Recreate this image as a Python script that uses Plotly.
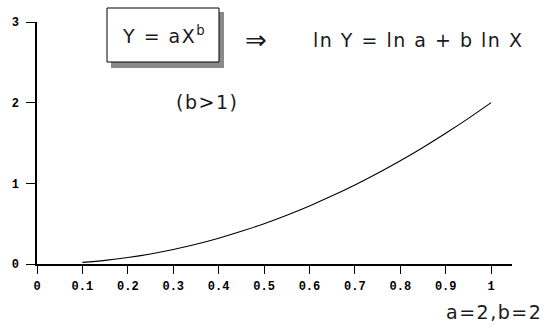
import plotly.graph_objects as go

# Power curve Y = aX^b with a=2, b=2
x_vals = [0.10, 0.15, 0.20, 0.25, 0.30, 0.35, 0.40, 0.45, 0.50, 0.55,
          0.60, 0.65, 0.70, 0.75, 0.80, 0.85, 0.90, 0.95, 1.00]
y_vals = [0.02, 0.045, 0.08, 0.125, 0.18, 0.245, 0.32, 0.405, 0.50, 0.605,
          0.72, 0.845, 0.98, 1.125, 1.28, 1.445, 1.62, 1.805, 2.00]

x_ticks = [0, 0.1, 0.2, 0.3, 0.4, 0.5, 0.6, 0.7, 0.8, 0.9, 1.0]
x_tick_text = ["0", "0.1", "0.2", "0.3", "0.4", "0.5", "0.6", "0.7", "0.8", "0.9", "1"]
y_ticks = [0, 1, 2, 3]
y_tick_text = ["0", "1", "2", "3"]

W, H = 552, 332
L, R, T, B = 37, 40, 22, 68
PW, PH = W - L - R, H - T - B


def px(xp):
    return (xp - L) / PW


def py(yp):
    return (H - B - yp) / PH


fig = go.Figure()
fig.add_trace(go.Scatter(x=x_vals, y=y_vals, mode="lines",
                         line=dict(color="black", width=1.1, shape="spline"),
                         hoverinfo="skip", showlegend=False))

tick_font = dict(family="Liberation Mono", size=12, color="black", weight="bold")
text_font = dict(family="DejaVu Sans", size=19, color="#1a1a1a")

fig.update_layout(
    width=W, height=H,
    margin=dict(l=L, r=R, t=T, b=B),
    paper_bgcolor="white", plot_bgcolor="white",
    xaxis=dict(range=[0, 1.046], tickvals=x_ticks, ticktext=x_tick_text,
               showgrid=False, zeroline=False, showline=True, linecolor="black",
               linewidth=1.5, ticks="outside", ticklen=8, tickwidth=1.2,
               tickcolor="black", tickfont=tick_font, ticklabelstandoff=2),
    yaxis=dict(range=[0, 3], tickvals=y_ticks, ticktext=y_tick_text,
               showgrid=False, zeroline=False, showline=True, linecolor="black",
               linewidth=1.5, ticks="outside", ticklen=9, tickwidth=1.2,
               tickcolor="black", tickfont=tick_font, ticklabelstandoff=5),
)

# Boxed formula with drop shadow
fig.add_shape(type="rect", xref="paper", yref="paper",
              x0=px(111), x1=px(224), y0=py(68), y1=py(12),
              fillcolor="#8a8a8a", line=dict(width=0), layer="above")
fig.add_shape(type="rect", xref="paper", yref="paper",
              x0=px(107), x1=px(219), y0=py(62), y1=py(8),
              fillcolor="white", line=dict(color="black", width=1), layer="above")

spaced = '<span style="letter-spacing:1.5px">{}</span>'


def note(x, y, text, size=None):
    font = dict(text_font)
    if size:
        font["size"] = size
    fig.add_annotation(xref="paper", yref="paper", x=px(x), y=py(y),
                       xanchor="center", yanchor="middle",
                       text=text, showarrow=False, font=font)


note(164, 35, spaced.format("Y = aX<sup>b</sup>"))
note(256, 40, "⇒", size=26)
note(418, 40, spaced.format("ln Y = ln a + b ln X"))
note(207, 102, spaced.format("(b>1)"))
note(494, 312, spaced.format("a=2,b=2"))

fig.write_html("out.html")
